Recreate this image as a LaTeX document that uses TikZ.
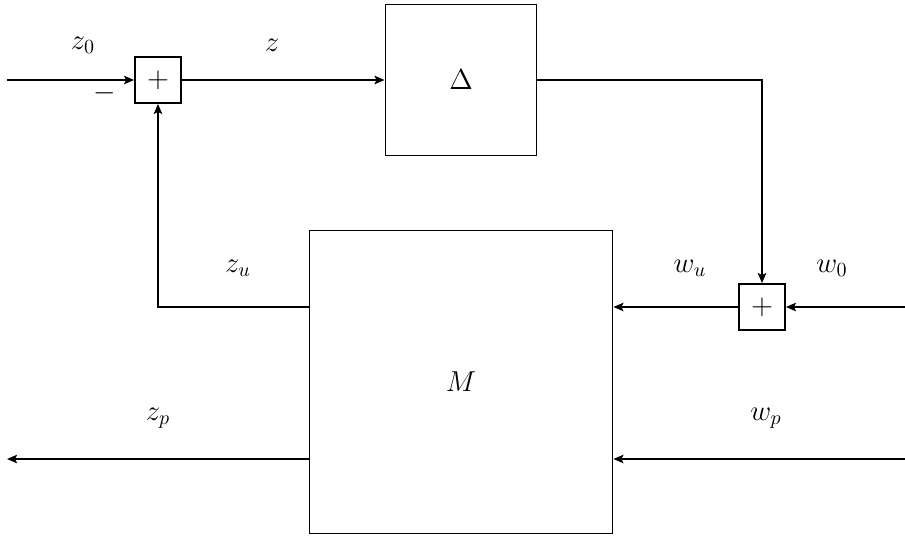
\documentclass[tikz,border=0pt]{standalone}
\usetikzlibrary{arrows.meta}
\begin{document}
\begin{tikzpicture}[x=0.5pt,y=-0.5pt,line width=0.9pt,
  blk/.style={draw,line width=0.9pt,minimum width=#1*0.5pt,minimum height=#1*0.5pt,inner sep=0pt},
  lbl/.style={font=\Large},
  arr/.style={-{Stealth[length=5pt,width=4.2pt,inset=1pt]}}]
\useasboundingbox (0,0) rectangle (905,537);
\node[blk=46,font=\Large] (s1) at (158,80) {$+$};
\node[blk=151] (D) at (461,80) {\Large$\Delta$};
\node[blk=303] (M) at (461,382) {\Large$M$};
\node[blk=46,font=\Large] (s2) at (762,307) {$+$};
\coordinate (in) at (7,80);
\coordinate (w0) at (905,307);
\coordinate (zp) at (7,459);
\coordinate (wp) at (905,459);
\coordinate (r1) at (762,80);
\coordinate (l1) at (158,307);
\draw[arr] (in) -- (s1.west);
\draw[arr] (s1.east) -- (D.west);
\draw[arr] (D.east) -- (r1) -- (s2.north);
\draw[arr] (w0) -- (s2.east);
\draw[arr] (s2.west) -- (M.east |- s2.west);
\draw[arr] (M.west |- l1) -- (l1) -- (s1.south);
\draw[arr] (M.west |- zp) -- (zp);
\draw[arr] (wp) -- (M.east |- wp);
\node[lbl] (t0) at (83,45) {$z_0$};
\node[lbl] (tm) at (105,93) {$-$};
\node[lbl] (tz) at (272,45) {$z$};
\node[lbl] (tzu) at (238,268) {$z_u$};
\node[lbl] (twu) at (690,268) {$w_u$};
\node[lbl] (tw0) at (832,268) {$w_0$};
\node[lbl] (tzp) at (158,418) {$z_p$};
\node[lbl] (twp) at (766,418) {$w_p$};
\end{tikzpicture}
\end{document}
